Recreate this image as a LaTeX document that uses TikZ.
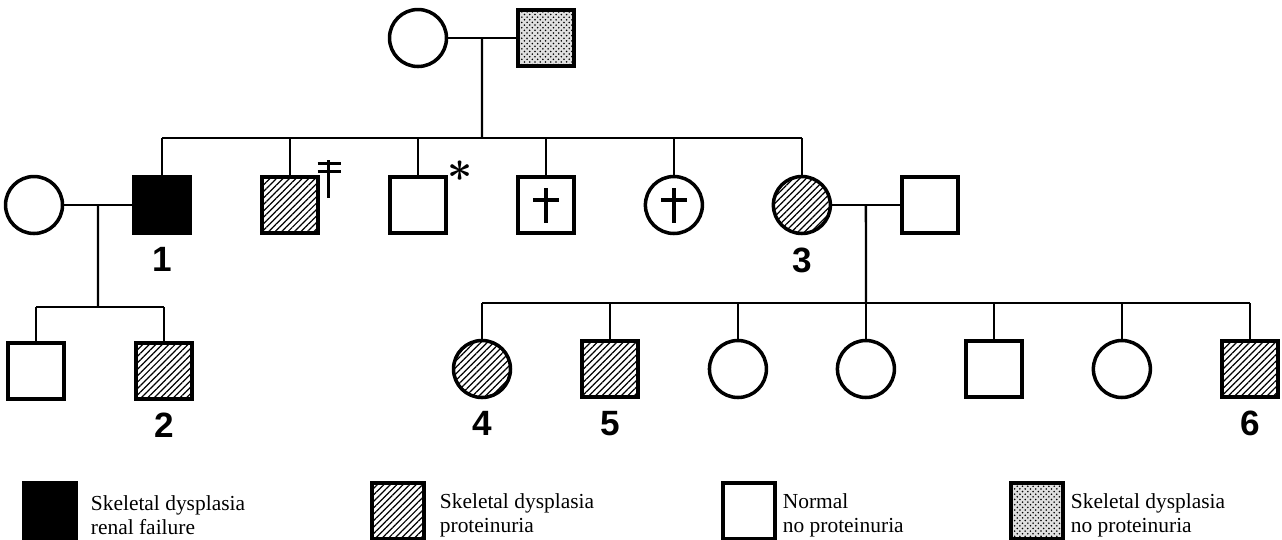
\documentclass[tikz,border=0pt]{standalone}
\usepackage{fontspec}
\setmainfont{Liberation Serif}
\newfontfamily\numfont{Liberation Sans}
\usetikzlibrary{positioning,patterns,patterns.meta,calc}

\begin{document}
\begin{tikzpicture}[x=0.02cm,y=-0.02cm,node distance=2.56cm,line width=1.3pt,
        male/.style={draw,rectangle,line width=2pt,minimum size=1.12cm,inner sep=0pt},
        female/.style={draw,circle,line width=2pt,minimum size=1.14cm,inner sep=0pt},
        affected/.style={fill=black},
        hatched/.style={pattern={Lines[angle=45,distance=2.6pt,line width=0.7pt]}},
        stippled/.style={fill=black!12,postaction={pattern=crosshatch dots}},
        deceased/.style={path picture={
            \draw[line width=2pt] ([yshift=0.34cm]path picture bounding box.center)
                -- ([yshift=-0.36cm]path picture bounding box.center);
            \draw[line width=2pt] ([xshift=-0.26cm,yshift=0.1cm]path picture bounding box.center)
                -- ([xshift=0.26cm,yshift=0.1cm]path picture bounding box.center);}},
        num/.style={label={[font=\numfont\bfseries\fontsize{20}{20}\selectfont,label distance=3pt]below:#1}},
        key/.style={draw,rectangle,line width=2pt,minimum width=1.04cm,minimum height=1.12cm,inner sep=0pt},
        keytext/.style={align=left,inner sep=0pt,yshift=-0.08cm,font=\fontsize{12.2}{13.6}\selectfont}]

    \useasboundingbox (0,0) rectangle (1282,539);

    \node[female] (g1) at (418,38) {};
    \node[male,stippled] (g2) [right of=g1] {};

    \node[male,affected,num=1] (p1) at (162,205) {};
    \node[female] (w1) [left of=p1] {};
    \node[male,hatched] (p2) [right of=p1] {};
    \node[male] (p3) [right of=p2] {};
    \node[male,deceased] (p4) [right of=p3] {};
    \node[female,deceased] (p5) [right of=p4] {};
    \node[female,hatched,num=3] (p6) [right of=p5] {};
    \node[male] (h6) [right of=p6] {};

    \node[male] (c1) at (36,371) {};
    \node[male,hatched,num=2] (c2) [right of=c1] {};

    \node[female,hatched,num=4] (d1) at (482,369) {};
    \node[male,hatched,num=5] (d2) [right of=d1] {};
    \node[female] (d3) [right of=d2] {};
    \node[female] (d4) [right of=d3] {};
    \node[male] (d5) [right of=d4] {};
    \node[female] (d6) [right of=d5] {};
    \node[male,hatched,num=6] (d7) [right of=d6] {};

    \draw[line width=1.8pt] ([xshift=0.2cm,yshift=0.32cm]p2.north east)
        -- ([xshift=0.2cm,yshift=-0.44cm]p2.north east);
    \draw[line width=1.8pt] ([xshift=-0.02cm,yshift=0.25cm]p2.north east)
        -- ([xshift=0.44cm,yshift=0.25cm]p2.north east);
    \draw[line width=1.8pt] ([xshift=-0.02cm,yshift=0.1cm]p2.north east)
        -- ([xshift=0.44cm,yshift=0.1cm]p2.north east);
    \node[font={\boldmath\fontsize{38}{38}\selectfont},inner sep=0pt] (ast) at ([xshift=0.24cm,yshift=0.08cm]p3.north east) {$\ast$};

    \coordinate (m1) at ($(g1)!0.5!(g2)$);
    \coordinate (s1) at (482,138);
    \draw (g1) -- (g2);
    \draw (m1) -- (s1);
    \draw (p1 |- s1) -- (p6 |- s1);
    \foreach \n in {p1,p2,p3,p4,p5,p6}
        \draw (\n) -- (\n |- s1);

    \coordinate (m2) at ($(w1)!0.5!(p1)$);
    \coordinate (s2) at (98,307);
    \draw (w1) -- (p1);
    \draw (m2) -- (s2);
    \draw (c1 |- s2) -- (c2 |- s2);
    \foreach \n in {c1,c2}
        \draw (\n) -- (\n |- s2);

    \coordinate (m3) at ($(p6)!0.5!(h6)$);
    \coordinate (s3) at (866,303);
    \draw (p6) -- (h6);
    \draw (m3) -- (s3);
    \draw (d1 |- s3) -- (d7 |- s3);
    \foreach \n in {1,...,7}
        \draw (d\n) -- (d\n |- s3);

    \node[key,affected] (k1) at (50,511) {};
    \node[keytext,right=0.24cm of k1] (t1) {Skeletal dysplasia\\renal failure};
    \node[key,hatched] (k2) at (398,511) {};
    \node[keytext,right=0.26cm of k2] (t2) {Skeletal dysplasia\\proteinuria};
    \node[key] (k3) at (749,511) {};
    \node[keytext,right=0.1cm of k3] (t3) {Normal\\no proteinuria};
    \node[key,stippled] (k4) at (1037,511) {};
    \node[keytext,right=0.1cm of k4] (t4) {Skeletal dysplasia\\no proteinuria};

    \end{tikzpicture}
\end{document}
